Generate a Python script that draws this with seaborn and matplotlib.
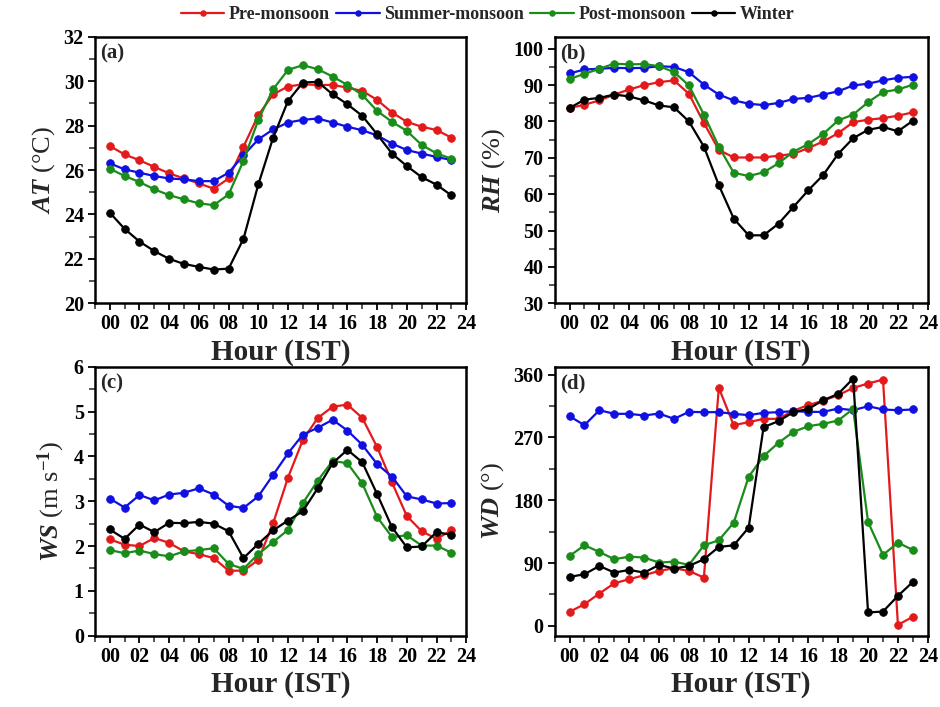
import numpy as np
import pandas as pd
import matplotlib
matplotlib.use("Agg")
import matplotlib.pyplot as plt
from matplotlib.ticker import MultipleLocator, FixedLocator
import seaborn as sns

hours = list(range(24))
seasons = ["Pre-monsoon", "Summer-monsoon", "Post-monsoon", "Winter"]
colors = ["#e31a1c", "#1010e0", "#1a8c1a", "#000000"]

AT_pre = [27.08, 26.7, 26.44, 26.14, 25.85, 25.62, 25.4, 25.16, 25.62, 27.05, 28.47, 29.41,
          29.76, 29.86, 29.83, 29.83, 29.71, 29.56, 29.16, 28.59, 28.17, 27.95, 27.8, 27.46]
AT_sum = [26.3, 26.03, 25.88, 25.73, 25.62, 25.58, 25.5, 25.5, 25.88, 26.66, 27.38, 27.83,
          28.14, 28.26, 28.32, 28.14, 27.95, 27.79, 27.56, 27.19, 26.9, 26.74, 26.59, 26.45]
AT_post = [26.06, 25.73, 25.46, 25.13, 24.87, 24.68, 24.5, 24.42, 24.9, 26.41, 28.26, 29.64,
           30.51, 30.72, 30.54, 30.21, 29.83, 29.38, 28.66, 28.17, 27.76, 27.13, 26.75, 26.51]
AT_win = [24.08, 23.35, 22.78, 22.35, 22.0, 21.77, 21.64, 21.52, 21.56, 22.9, 25.35, 27.46,
          29.11, 29.94, 29.97, 29.41, 28.96, 28.44, 27.61, 26.74, 26.18, 25.68, 25.34, 24.86]

RH_pre = [83.7, 84.6, 85.8, 87.4, 88.8, 90.0, 90.8, 91.3, 87.6, 79.6, 72.2, 70.1,
          70.1, 70.1, 70.6, 71.1, 72.7, 74.5, 76.8, 79.8, 80.5, 80.9, 81.6, 82.5]
RH_sum = [93.2, 94.3, 94.5, 94.75, 94.66, 94.75, 95.2, 95.0, 93.55, 90.15, 87.4, 85.8,
          84.9, 84.5, 85.1, 86.2, 86.5, 87.4, 88.3, 89.9, 90.4, 91.3, 92.0, 92.3]
RH_post = [91.7, 93.1, 94.5, 95.9, 95.7, 95.8, 95.2, 93.6, 89.9, 81.9, 73.1, 65.9,
           65.0, 66.0, 68.5, 71.7, 73.8, 76.6, 80.3, 81.9, 85.3, 88.1, 88.8, 90.1]
RH_win = [83.7, 86.0, 86.5, 87.4, 86.9, 85.8, 84.4, 83.9, 80.0, 73.1, 62.5, 53.3,
          48.7, 48.7, 51.9, 56.5, 61.1, 65.3, 71.1, 75.4, 77.7, 78.5, 77.3, 80.2]

WS_pre = [2.15, 2.03, 2.0, 2.18, 2.07, 1.88, 1.82, 1.73, 1.45, 1.45, 1.69, 2.51,
          3.53, 4.37, 4.86, 5.11, 5.16, 4.86, 4.21, 3.42, 2.67, 2.33, 2.16, 2.35]
WS_sum = [3.06, 2.86, 3.14, 3.02, 3.15, 3.19, 3.29, 3.15, 2.9, 2.85, 3.11, 3.59,
          4.07, 4.49, 4.64, 4.82, 4.58, 4.26, 3.83, 3.55, 3.11, 3.04, 2.95, 2.96]
WS_post = [1.91, 1.84, 1.9, 1.82, 1.77, 1.88, 1.91, 1.95, 1.6, 1.49, 1.82, 2.09,
           2.36, 2.96, 3.46, 3.9, 3.85, 3.4, 2.65, 2.2, 2.24, 2.01, 2.01, 1.85]
WS_win = [2.37, 2.16, 2.48, 2.31, 2.52, 2.51, 2.54, 2.5, 2.33, 1.73, 2.05, 2.35,
          2.57, 2.78, 3.29, 3.85, 4.15, 3.87, 3.16, 2.42, 1.97, 1.99, 2.31, 2.25]

WD_pre = [20, 31, 46.3, 61, 66.8, 72.5, 78.7, 82.5, 78.7, 69.1, 341, 287.6,
          291.8, 296.6, 296.6, 308.5, 316.2, 322.8, 330.5, 341, 347.2, 352.9, 1.4, 12.9]
WD_sum = [300.4, 287.5, 309, 303.8, 303.8, 301.4, 304.2, 296.6, 306.6, 306.2, 306.2, 303.8,
          301.9, 305.2, 306.2, 307.6, 306.6, 306.6, 311.4, 309, 314.7, 310, 309, 310]
WD_post = [100.1, 115.4, 105.9, 95.4, 99.2, 97.8, 90.6, 92, 87.3, 115.4, 122.6, 147.8,
           213.6, 243.2, 262.3, 278, 286.1, 289.5, 294.2, 310.9, 148.8, 101.6, 119.2, 108.7]
WD_win = [70.1, 73.9, 85.8, 76.3, 80.1, 76.3, 87.3, 82, 85.8, 95.4, 113, 115.4,
          140.7, 284.7, 293.3, 306.2, 310.9, 323.3, 332.4, 354.3, 19.1, 20.5, 42.9, 62.9]

x_ticks = list(range(0, 25, 2))
x_labels = ["%02d" % h for h in x_ticks]

sns.set_theme(style="ticks")
plt.rcParams["font.family"] = ["Liberation Serif", "DejaVu Serif"]
plt.rcParams["font.weight"] = "bold"
plt.rcParams["mathtext.fontset"] = "custom"
plt.rcParams["mathtext.it"] = "Liberation Serif:italic:bold"
plt.rcParams["mathtext.rm"] = "Liberation Serif"
plt.rcParams["mathtext.bf"] = "Liberation Serif:bold"

panels = [
    ("AT", [AT_pre, AT_sum, AT_post, AT_win], "$AT$ (°C)", (20, 32), 2, 1, "(a)"),
    ("RH", [RH_pre, RH_sum, RH_post, RH_win], "$RH$ (%)", (30, 103.3), 10, 5, "(b)"),
    ("WS", [WS_pre, WS_sum, WS_post, WS_win], "$WS$ (m s$^{\\mathrm{-1}}$)", (0, 6), 1, 0.5, "(c)"),
    ("WD", [WD_pre, WD_sum, WD_post, WD_win], "$WD$ (°)", (-14, 371), 90, 45, "(d)"),
]

positions = [
    [0.101, 0.571, 0.395, 0.377],
    [0.590, 0.571, 0.397, 0.377],
    [0.101, 0.101, 0.395, 0.380],
    [0.590, 0.101, 0.397, 0.380],
]

fig = plt.figure(figsize=(9.4, 7.07), dpi=100)
handles = None
for (name, series, ylabel, ylim, major, minor, tag), pos in zip(panels, positions):
    ax = fig.add_axes(pos)
    rows = []
    for s, vals in zip(seasons, series):
        for h, v in zip(hours, vals):
            rows.append({"Hour": h, name: v, "Season": s})
    df = pd.DataFrame(rows)
    sns.lineplot(data=df, x="Hour", y=name, hue="Season", hue_order=seasons,
                 palette=colors, marker="o", markersize=5.5, markeredgewidth=0.6,
                 linewidth=1.6, ax=ax)
    for ln in ax.lines:
        ln.set_markeredgecolor(ln.get_color())
    handles, labels = ax.get_legend_handles_labels()
    ax.get_legend().remove()
    ax.set_xlim(-1.0, 24.0)
    ax.set_ylim(*ylim)
    ax.xaxis.set_major_locator(FixedLocator(x_ticks))
    ax.set_xticklabels(x_labels)
    ax.xaxis.set_minor_locator(MultipleLocator(1))
    if name == "RH":
        ax.yaxis.set_major_locator(FixedLocator(list(range(30, 101, 10))))
        ax.yaxis.set_minor_locator(FixedLocator(list(range(35, 101, 10))))
    elif name == "WD":
        ax.yaxis.set_major_locator(FixedLocator([0, 90, 180, 270, 360]))
        ax.yaxis.set_minor_locator(FixedLocator([45, 135, 225, 315]))
    else:
        ax.yaxis.set_major_locator(MultipleLocator(major))
        ax.yaxis.set_minor_locator(MultipleLocator(minor))
    ax.tick_params(axis="both", which="major", direction="out", length=5, width=1.3,
                   labelsize=14.5, pad=3, colors="black")
    ax.tick_params(axis="both", which="minor", direction="out", length=4, width=1.1)
    for lab in ax.get_xticklabels() + ax.get_yticklabels():
        lab.set_fontweight("bold")
    for sp in ax.spines.values():
        sp.set_visible(True)
        sp.set_linewidth(1.8)
        sp.set_color("black")
    ax.set_xlabel("Hour (IST)", fontsize=21, fontweight="bold", labelpad=3)
    ax.set_ylabel(ylabel, fontsize=19, fontweight="normal", labelpad=5)
    ax.text(0.015, 0.975, tag, transform=ax.transAxes, ha="left", va="top",
            fontsize=15, fontweight="bold")
    ax.grid(False)

fig.legend(handles, seasons, loc="center", bbox_to_anchor=(0.519, 0.979), ncol=4,
           frameon=False, handlelength=2.4, handletextpad=0.25,
           columnspacing=0.35, borderaxespad=0,
           prop={"family": ["Liberation Serif"], "weight": "bold", "size": 13})
for h in fig.legends[0].legend_handles:
    h.set_markersize(4)
    h.set_markeredgecolor(h.get_color())

fig.savefig("out.png", dpi=100)
